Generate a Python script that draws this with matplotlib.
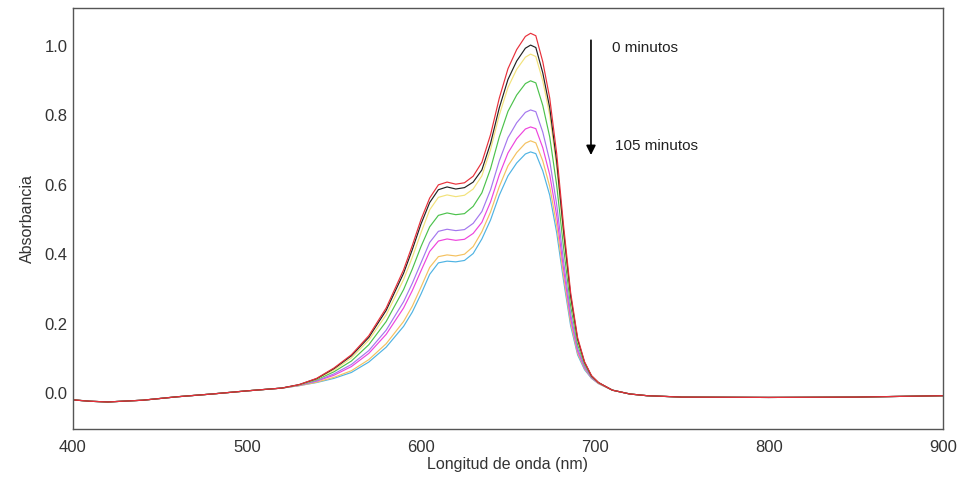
import matplotlib
matplotlib.use("Agg")
import matplotlib.pyplot as plt
import numpy as np

plt.rcParams['font.family'] = ['Liberation Sans', 'DejaVu Sans']

# shared baseline (all spectra overlap here)
wl_left = [400, 410, 420, 440, 460, 480, 500, 520]
abs_left = [-0.020, -0.024, -0.026, -0.021, -0.011, -0.003, 0.006, 0.014]
wl_right = [720, 730, 750, 800, 850, 900]
abs_right = [-0.003, -0.008, -0.012, -0.013, -0.012, -0.008]

# absorption band
wl_band = [530, 540, 550, 560, 570, 580, 590, 595, 600, 605, 610, 615, 620, 625,
           630, 635, 640, 645, 650, 655, 660, 663, 666, 670, 674, 678, 682, 686,
           690, 694, 698, 702, 710]

rojo = [0.024, 0.042, 0.072, 0.110, 0.165, 0.245, 0.355, 0.425, 0.500, 0.562, 0.600,
        0.608, 0.602, 0.606, 0.625, 0.665, 0.745, 0.850, 0.935, 0.990, 1.028, 1.037,
        1.030, 0.955, 0.850, 0.690, 0.480, 0.290, 0.160, 0.090, 0.050, 0.030, 0.008]
negro = [0.024, 0.041, 0.070, 0.107, 0.160, 0.238, 0.345, 0.413, 0.487, 0.549, 0.586,
         0.594, 0.588, 0.592, 0.608, 0.643, 0.720, 0.822, 0.904, 0.957, 0.994, 1.003,
         0.996, 0.923, 0.822, 0.667, 0.464, 0.280, 0.155, 0.088, 0.049, 0.030, 0.008]
amarillo = [0.023, 0.040, 0.066, 0.101, 0.152, 0.225, 0.327, 0.391, 0.462, 0.528, 0.564,
            0.571, 0.566, 0.570, 0.588, 0.626, 0.702, 0.801, 0.881, 0.933, 0.968, 0.977,
            0.970, 0.900, 0.801, 0.650, 0.452, 0.273, 0.151, 0.086, 0.049, 0.029, 0.008]
verde = [0.023, 0.038, 0.061, 0.092, 0.139, 0.206, 0.298, 0.357, 0.422, 0.479, 0.512,
         0.519, 0.514, 0.517, 0.538, 0.577, 0.647, 0.738, 0.812, 0.859, 0.892, 0.900,
         0.894, 0.829, 0.738, 0.599, 0.417, 0.252, 0.140, 0.082, 0.047, 0.029, 0.008]
violeta = [0.022, 0.035, 0.055, 0.082, 0.122, 0.181, 0.263, 0.316, 0.375, 0.434, 0.466,
           0.472, 0.468, 0.471, 0.489, 0.523, 0.586, 0.669, 0.736, 0.779, 0.809, 0.816,
           0.811, 0.752, 0.669, 0.543, 0.378, 0.228, 0.128, 0.076, 0.045, 0.028, 0.008]
magenta = [0.022, 0.034, 0.051, 0.076, 0.114, 0.169, 0.245, 0.295, 0.352, 0.408, 0.438,
           0.444, 0.440, 0.443, 0.460, 0.492, 0.551, 0.629, 0.692, 0.733, 0.761, 0.767,
           0.762, 0.707, 0.629, 0.511, 0.355, 0.215, 0.121, 0.073, 0.044, 0.028, 0.008]
naranja = [0.021, 0.031, 0.045, 0.064, 0.096, 0.142, 0.206, 0.250, 0.305, 0.362, 0.393,
           0.398, 0.395, 0.400, 0.422, 0.465, 0.522, 0.595, 0.655, 0.693, 0.720, 0.727,
           0.721, 0.669, 0.595, 0.483, 0.336, 0.203, 0.115, 0.070, 0.043, 0.027, 0.008]
cian = [0.021, 0.030, 0.042, 0.059, 0.089, 0.132, 0.192, 0.233, 0.285, 0.342, 0.375,
        0.380, 0.378, 0.382, 0.402, 0.444, 0.499, 0.570, 0.626, 0.663, 0.689, 0.695,
        0.690, 0.640, 0.570, 0.462, 0.322, 0.194, 0.110, 0.067, 0.042, 0.027, 0.008]

series = [rojo, negro, amarillo, verde, violeta, magenta, naranja, cian]
colores = ['#e8303a', '#222222', '#f2e27a', '#4cc24c', '#a477ee', '#ee44dd',
           '#f4c160', '#4fb3e3']

fig = plt.figure(figsize=(9.58, 4.78), dpi=100)
ax = fig.add_axes([0.0762, 0.1025, 0.9081, 0.8808])

wl = wl_left + wl_band + wl_right
for vals, c in reversed(list(zip(series, colores))):
    ax.plot(wl, abs_left + vals + abs_right, color=c, lw=0.85)

ax.set_xlim(400, 900)
ax.set_ylim(-0.104, 1.11)
ax.set_xticks([400, 500, 600, 700, 800, 900])
ax.set_yticks([0.0, 0.2, 0.4, 0.6, 0.8, 1.0])
ax.set_yticklabels(['0.0', '0.2', '0.4', '0.6', '0.8', '1.0'])
ax.tick_params(length=0, labelsize=12, colors='#333333')
ax.tick_params(axis='y', pad=4)
ax.tick_params(axis='x', pad=8)
for s in ax.spines.values():
    s.set_color('#555555')
    s.set_linewidth(1.0)

ax.set_xlabel('Longitud de onda (nm)', fontsize=11.5, color='#333333', labelpad=1)
ax.set_ylabel('Absorbancia', fontsize=11.5, color='#333333', labelpad=7)

ax.annotate('', xy=(697.7, 0.686), xytext=(697.7, 1.017),
            arrowprops=dict(arrowstyle='-|>', color='black', lw=1.2,
                            mutation_scale=14, shrinkA=0, shrinkB=0))
ax.text(710, 0.994, '0 minutos', fontsize=11, color='#222222', va='center')
ax.text(711.5, 0.712, '105 minutos', fontsize=11, color='#222222', va='center')

fig.savefig('out.png', dpi=100)
